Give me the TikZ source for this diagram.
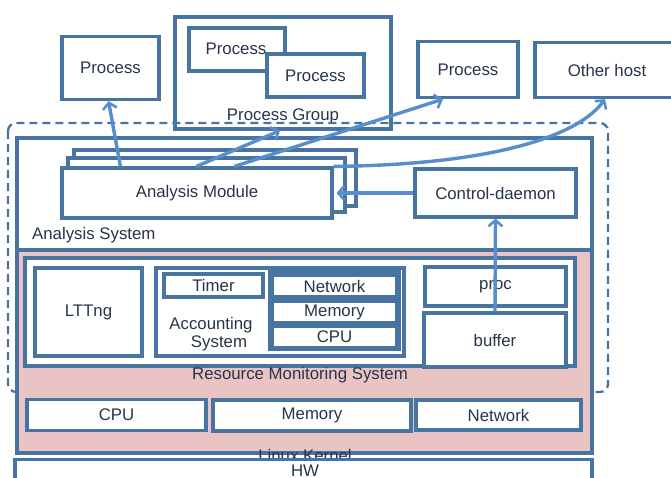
\documentclass[tikz,border=0pt]{standalone}
\usepackage{fontspec}
\setmainfont{Liberation Sans}
\usepackage{tikz}
\usetikzlibrary{arrows.meta, positioning, calc}
\definecolor{edgeblue}{RGB}{72,116,162}
\definecolor{flowblue}{RGB}{88,142,204}
\definecolor{kpink}{RGB}{234,196,196}
\definecolor{txt}{RGB}{40,52,74}

\begin{document}
\begin{tikzpicture}[x=1pt, y=-1pt, font=\fontsize{16.8}{19}\selectfont, text=txt,
    >={Straight Barb[length=6pt, width=14pt, line width=2.6pt]},
    box/.style={draw=edgeblue, line width=3.2pt, fill=white, inner sep=0pt, align=center},
    flow/.style={->, draw=flowblue, line width=3.4pt},
    lbl/.style={inner sep=0pt, text=txt}]
    \useasboundingbox (0,0) rectangle (671,477);
    \clip (0,0) rectangle (671,477);

    % processes on top
    \node[box, minimum width=97pt, minimum height=63pt] (proc1) at (110.5,68) {Process};
    \node[box, minimum width=216pt, minimum height=112pt] (grp) at (283,73) {};
    \node[lbl] (grplbl) at (283,116) {Process Group};
    \node[box, minimum width=96pt, minimum height=43pt] (pa) at (237,49.5) {\raisebox{1pt}{Process}\hspace*{2pt}};
    \node[box, minimum width=97pt, minimum height=43pt] (pb) at (315.5,75.5) {Process};
    \node[box, minimum width=100pt, minimum height=56pt] (proc3) at (468,69.5) {Process};
    \node[box, minimum width=144pt, minimum height=55pt] (other) at (607,70) {Other host};

    % monitored area
    \draw[edgeblue, line width=2.3pt, dash pattern=on 8pt off 5pt, rounded corners=8pt] (8,123) rectangle (608,392);

    % analysis system
    \node[box, minimum width=575pt, minimum height=112pt] (anasys) at (304.5,194) {};
    \node[lbl, anchor=west] (anasyslbl) at (32,235) {Analysis System};
    \node[box, minimum width=282pt, minimum height=56pt] (am3) at (215,178) {};
    \node[box, minimum width=277pt, minimum height=54pt] (am2) at (206.5,185) {};
    \node[box, minimum width=270pt, minimum height=50pt] (am1) at (197,193) {Analysis Module};
    \node[box, minimum width=161pt, minimum height=48pt] (ctrl) at (495.5,193) {Control-daemon};

    % kernel and resource monitoring
    \node[box, fill=kpink, minimum width=575pt, minimum height=203pt] (kernel) at (304.5,351.5) {};
    \node[box, minimum width=550pt, minimum height=108pt] (rms) at (300,312) {};
    \node[lbl] (rmslbl) at (300,375) {Resource Monitoring System};
    \node[box, minimum width=107pt, minimum height=88pt] (lttng) at (88.5,312) {LTTng};
    \node[box, minimum width=248pt, minimum height=88pt] (acct) at (280,312) {};
    \node[lbl, align=center, font=\fontsize{16.8}{18}\selectfont] (acctlbl) at (211,334) {Accounting\\\hspace*{16pt}System};
    \node[box, minimum width=99pt, minimum height=23pt] (timer) at (213.5,285.5) {Timer};
    \node[box, minimum width=129pt, minimum height=77pt] (grp2) at (334.5,310.5) {};
    \node[box, minimum width=125pt, minimum height=22pt] (net) at (334.5,286) {Network};
    \node[box, minimum width=125pt, minimum height=22pt] (mem) at (334.5,312) {Memory};
    \node[box, minimum width=125pt, minimum height=21pt] (cpu) at (334.5,337) {CPU};
    \node[box, minimum width=141pt, minimum height=39pt] (proc) at (495.5,286.5) {proc};
    \node[box, minimum width=142pt, minimum height=54pt] (buf) at (495,340) {buffer};

    \node[box, minimum width=179pt, minimum height=31pt] (kcpu) at (116.5,415) {CPU};
    \node[box, minimum width=198pt, minimum height=31pt] (kmem) at (312,415.5) {Memory};
    \node[box, minimum width=165pt, minimum height=30pt] (knet) at (498.5,415) {Network};
    \node[lbl] (kernlbl) at (305,455.5) {Linux Kernel};

    % hardware
    \node[box, minimum width=577pt, minimum height=44pt, anchor=north] (hw) at (303.5,458) {};
    \node[lbl] (hwlbl) at (305,471) {HW};

    % flows
    \draw[flow] ([xshift=60pt]am1.north west) -- ([xshift=-2pt]proc1.south);
    \draw[flow] ([xshift=136pt]am1.north west) -- ([xshift=-3pt]grp.south);
    \draw[flow] ([xshift=174pt]am1.north west) -- ([xshift=-25pt]proc3.south);
    \draw[flow] (am1.north east) .. controls (480,165) and (575,140) .. ([xshift=-2pt]other.south);
    \draw[flow] (ctrl.west) -- ([xshift=3pt]am1.east);
    \draw[flow] (buf.north) -- (ctrl.south);
\end{tikzpicture}
\end{document}
